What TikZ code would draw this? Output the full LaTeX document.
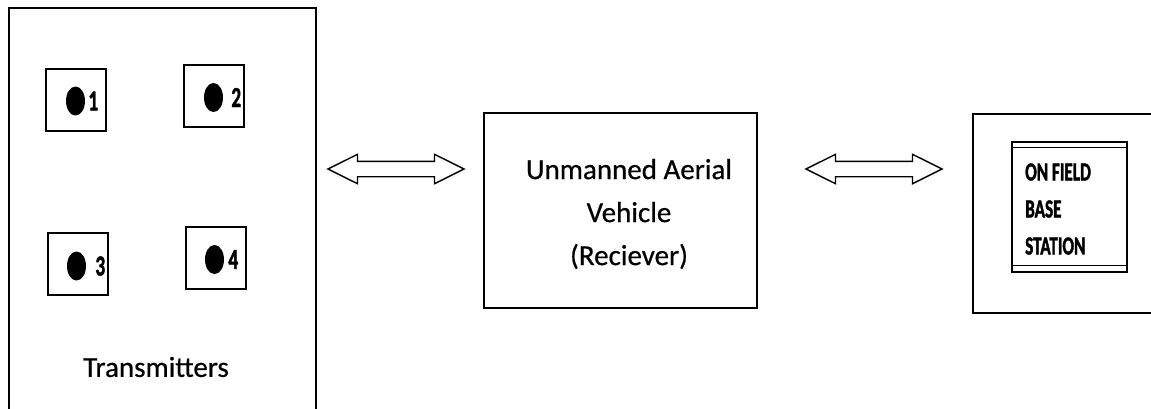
\documentclass[tikz,border=0pt]{standalone}
\usepackage{fontspec}
\setmainfont{Carlito}[FakeBold=0.6]
\newfontfamily\narrowfont[FakeStretch=0.66, BoldFeatures={FakeBold=1.5}]{Carlito}
\usetikzlibrary{shapes.geometric, shapes.arrows, positioning}

\tikzset{
    box/.style={draw, line width=1.6pt, inner sep=0pt},
    txbox/.style={draw, line width=1.5pt, minimum width=60pt, minimum height=62pt, inner sep=0pt},
    dot/.style={ellipse, fill=black, minimum width=19pt, minimum height=29pt, inner sep=0pt},
    num/.style={font=\narrowfont\bfseries\fontsize{29}{29}\selectfont, inner sep=0pt},
    boxtext/.style={font=\fontsize{29}{43}\selectfont, align=center, inner sep=0pt},
    link/.style={double arrow, draw, line width=1.4pt, inner xsep=0pt, inner ysep=7pt,
        minimum height=136pt,
        double arrow head extend=7pt, double arrow tip angle=53}
}

\begin{document}
\begin{tikzpicture}[x=1pt, y=-1pt]
    \path[use as bounding box, clip] (0,0) rectangle (1151,408);

    % transmitters
    \node[box, anchor=north west, minimum width=307pt, minimum height=430pt] (tx) at (8,7) {};
    \node[txbox] (s1) at (76,100) {};
    \node[txbox] (s2) at (214,96) {};
    \node[txbox] (s3) at (78,264) {};
    \node[txbox] (s4) at (216,258) {};

    \node[dot] (d1) at (75.5,101) {};
    \node[dot] (d2) at (213.5,97.5) {};
    \node[dot] (d3) at (76.5,266) {};
    \node[dot] (d4) at (214.5,259.5) {};

    \node[num, right=3pt of d1] (n1) {1};
    \node[num, right=8pt of d2] (n2) {2};
    \node[num, right=9pt of d3] (n3) {3};
    \node[num, right=4pt of d4] (n4) {4};

    \node[boxtext] (txlabel) at (156,367) {Transmitters};

    % receiver
    \node[box, minimum width=273pt, minimum height=195pt] (uav) at (620.5,210.5) {};
    \node[boxtext] (uavtext) at (629,214) {Unmanned Aerial\\Vehicle\\(Reciever)};

    % base station
    \node[box, anchor=north west, minimum width=250pt, minimum height=199pt] (bs) at (972,113) {};
    \node[box, line width=1.4pt, minimum width=115pt, minimum height=130pt] (bsin) at (1069.5,207) {};
    \draw[line width=1.4pt] ([yshift=-6pt]bsin.north west) -- ([yshift=-6pt]bsin.north east);
    \draw[line width=1.4pt] ([yshift=7pt]bsin.south west) -- ([yshift=7pt]bsin.south east);
    \node[font=\narrowfont\bfseries\fontsize{26}{37}\selectfont, align=left, inner sep=0pt,
        anchor=west] (bstext) at (1025,209) {ON FIELD\\BASE\\STATION};

    % links
    \node[link] (a1) at (396,169) {};
    \node[link] (a2) at (874,169) {};
\end{tikzpicture}
\end{document}
